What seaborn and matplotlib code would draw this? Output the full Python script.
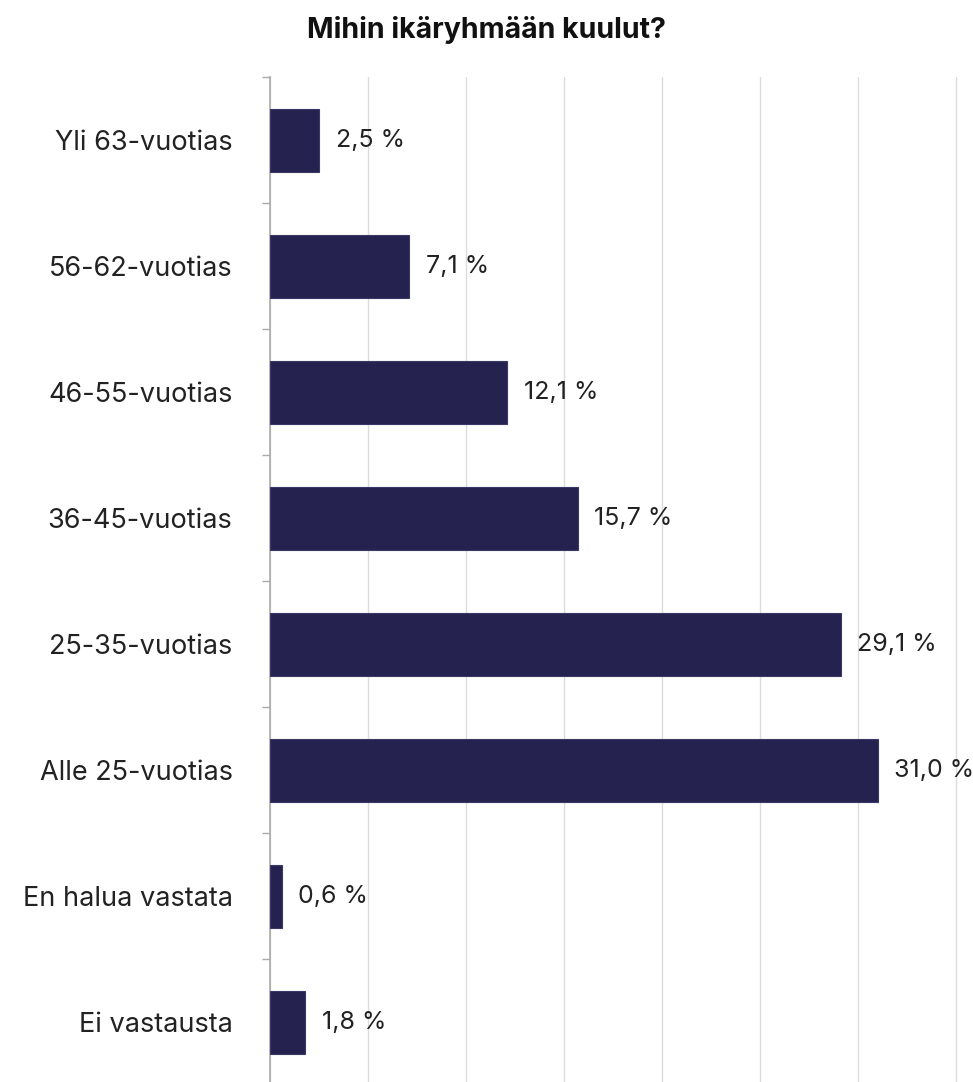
import matplotlib
matplotlib.use("Agg")
import matplotlib.pyplot as plt
import seaborn as sns
import pandas as pd
from matplotlib.ticker import MultipleLocator, FixedLocator

categories = ["Yli 63-vuotias", "56-62-vuotias", "46-55-vuotias", "36-45-vuotias",
              "25-35-vuotias", "Alle 25-vuotias", "En halua vastata", "Ei vastausta"]
values = [2.5, 7.1, 12.1, 15.7, 29.1, 31.0, 0.6, 1.8]
title = "Mihin ikäryhmään kuulut?"

bar_color = "#25224f"

sns.set_theme(style="white")
plt.rcParams["font.family"] = ["Inter", "DejaVu Sans"]

df = pd.DataFrame({"group": categories, "share": values})

fig = plt.figure(figsize=(9.73, 10.82), dpi=100)
ax = fig.add_axes([0.2775, -0.003, 0.7133, 0.9318])

sns.barplot(data=df, x="share", y="group", order=categories, color=bar_color,
            width=0.5, saturation=1, edgecolor="#3a3866", linewidth=0.8, ax=ax, zorder=3)

ax.set_xlim(0, 35.4)
ax.set_ylim(len(categories) - 0.5, -0.5)
ax.xaxis.set_major_locator(MultipleLocator(5))
ax.grid(axis="x", color="#dcdcdc", linewidth=1.0, zorder=0)
ax.grid(axis="y", visible=False)
ax.set_xticklabels([])
ax.tick_params(axis="x", length=0)

ax.yaxis.set_minor_locator(FixedLocator([i - 0.5 for i in range(len(categories) + 1)]))
ax.tick_params(axis="y", which="major", length=0, pad=27, labelsize=19.5, labelcolor="#222222")
ax.tick_params(axis="y", which="minor", length=6, width=1.0, color="#aaaaaa", left=True)

for side in ["top", "right", "bottom"]:
    ax.spines[side].set_visible(False)
ax.spines["left"].set_color("#aaaaaa")
ax.spines["left"].set_linewidth(1.2)

ax.set_xlabel("")
ax.set_ylabel("")

for i, v in enumerate(values):
    ax.annotate(f"{v:.1f}".replace(".", ",") + " %", xy=(v, i), xytext=(12, 0),
                textcoords="offset points", va="center", ha="left",
                fontsize=18, color="#222222")

fig.text(0.4995, 0.972, title, ha="center", va="center", fontsize=20.5, fontweight="bold",
         color="#111111")

fig.savefig("out.png", dpi=100)
